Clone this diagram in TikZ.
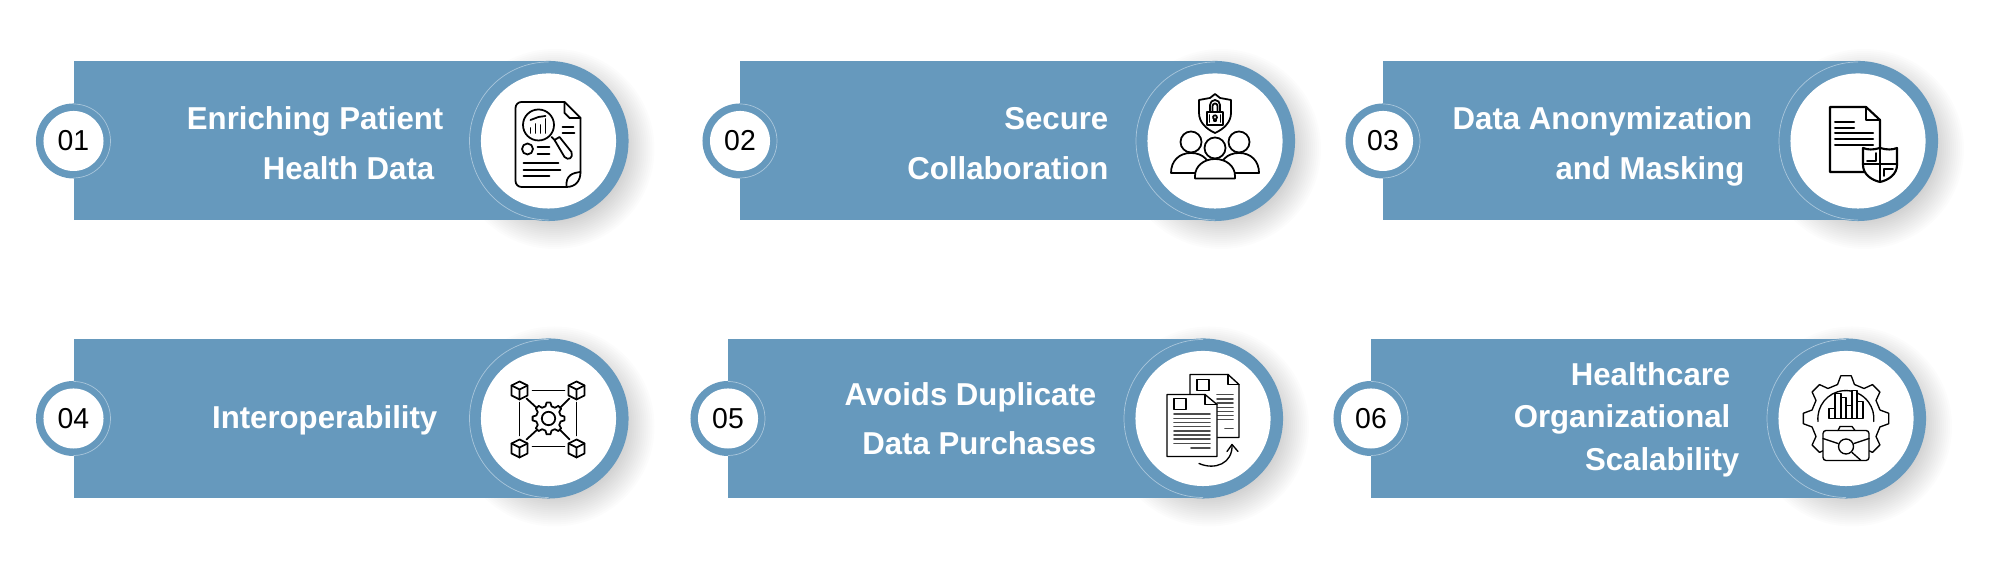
\documentclass[tikz,border=0pt]{standalone}
\usepackage{fontspec}
\setmainfont[FakeStretch=.985]{Liberation Sans}
\definecolor{cardblue}{HTML}{6699BD}
\definecolor{cardedge}{HTML}{A9C6DB}
\tikzset{
  bigring/.style={circle,fill=cardblue,minimum size=1.6cm,inner sep=0pt},
  bigdot/.style={circle,fill=white,minimum size=1.35cm,inner sep=0pt},
  numring/.style={circle,fill=cardblue,minimum size=.75cm,inner sep=0pt},
  numdot/.style={circle,fill=white,minimum size=.6cm,inner sep=0pt,text=black,font=\fontsize{8.2}{10}\selectfont},
  lbl/.style={anchor=base east,inner sep=0pt,text=white,font=\fontsize{9}{11}\selectfont\bfseries},
  icon/.style={line width=.5pt,line join=round,line cap=round,black},
  thin icon/.style={line width=.38pt,line join=round,line cap=round,black}
}
\newcommand\card[4]{
  \foreach \r in {70,72,...,100} {
    \fill[black,opacity=.011] (#1+6,#2-8) circle(\r);
  }
  \fill[cardblue] (#1-475,#2-79.5) rectangle (#1,#2+79.5);
  \node[bigring] (ring#4) at (#1,#2) {};
  \draw[cardedge,line width=.2pt] (#1,#2+79) arc(90:270:79);
  \node[bigdot] (dot#4) at (#1,#2) {};
  \node[numring] (numring#4) at (#1-475,#2) {};
  \draw[cardedge,line width=.2pt] (#1-475,#2+37) arc(90:-90:37);
  \node[numdot] (num#4) at (#1-475,#2) {#3};
}
\newcommand\gearline[4]{
  (#1-14:#3) \foreach \a in {#2} { -- (\a-14:#3) -- (\a-7:#4) -- (\a+7:#4) -- (\a+14:#3) }
}
\newcommand\cube[2]{
  \draw[icon] (#1,#2+9) -- (#1+8,#2+5) -- (#1+8,#2-5) -- (#1,#2-9) -- (#1-8,#2-5) -- (#1-8,#2+5) -- cycle;
  \draw[icon] (#1-8,#2+5) -- (#1,#2+1) -- (#1+8,#2+5) (#1,#2+1) -- (#1,#2-9);
}
\begin{document}
\begin{tikzpicture}[x=.01cm,y=.01cm]
  \useasboundingbox (0,0) rectangle (2000,586);
  \fill[white] (0,0) rectangle (2000,586);

  \card{548.5}{445}{01}{a}
  \card{1215}{445}{02}{b}
  \card{1858}{445}{03}{c}
  \card{548.5}{167.5}{04}{d}
  \card{1203}{167.5}{05}{e}
  \card{1846}{167.5}{06}{f}

  \node[lbl] (t1) at (444,456) {Enriching Patient};
  \node[lbl] (t2) at (435,406) {Health Data};
  \node[lbl] (t3) at (1109,456) {Secure};
  \node[lbl] (t4) at (1109,406) {Collaboration};
  \node[lbl] (t5) at (1753,456) {Data Anonymization};
  \node[lbl] (t6) at (1745,406) {and Masking};
  \node[lbl] (t7) at (438,157) {Interoperability};
  \node[lbl] (t8) at (1097,180) {Avoids Duplicate};
  \node[lbl] (t9) at (1097,131) {Data Purchases};
  \node[lbl] (t10) at (1731,200) {Healthcare};
  \node[lbl] (t11) at (1731,158) {Organizational};
  \node[lbl] (t12) at (1740,115) {Scalability};

  \begin{scope}[shift={(548.5,445)}]
    \draw[icon] (16,39) -- (-27,39) arc(90:180:6) -- (-33,-40) arc(180:270:6) -- (18,-46)
      .. controls (27,-46) and (32,-40) .. (32,-31) -- (32,23) -- cycle;
    \draw[icon] (16,39) -- (16,28) -- (21,23) -- (32,23);
    \draw[icon] (32,-31) .. controls (24,-32) and (17,-34) .. (18,-46);
    \draw[icon,fill=white] (-10,16) circle(15.5);
    \draw[icon] (3,4) -- (7,0);
    \draw[icon,fill=white] (6,1) -- (11,4) -- (23,-11) .. controls (25,-17) and (20,-20) .. (16,-16) -- cycle;
    \draw[icon] (-18,13) -- (-18,8) (-13,17) -- (-13,8) (-8,16) -- (-8,8) (-3,22) -- (-3,8);
    \draw[icon] (-18,21) -- (-10,24) -- (-3,25);
    \draw[icon] (14,14) -- (25,14) (14,8) -- (26,8);
    \draw[icon] (-21,-8) circle(5.5);
    \draw[icon] (-11,-6) -- (1,-6) (-11,-13) -- (1,-13);
    \draw[icon] (-25,-22) -- (10,-22) (-25,-29) -- (12,-29) (-25,-35) -- (1,-35);
  \end{scope}

  \begin{scope}[shift={(1215,445)}]
    \draw[icon] (0,47) -- (-5,43) -- (-16,41) -- (-16,28) .. controls (-16,19) and (-9,12) .. (0,8) .. controls (9,12) and (16,19) .. (16,28) -- (16,41) -- (5,43) -- cycle;
    \draw[icon] (-8,16) rectangle (8,29);
    \draw[icon] (-5,29) -- (-5,36) arc(180:0:5) -- (5,29);
    \draw[icon] (-2.5,29) -- (-2.5,35) arc(180:0:2.5) -- (2.5,29);
    \draw[icon] (-1,20) -- (1,20) -- (1,22) arc(-60:240:2) -- cycle;
    \draw[icon] (-5.5,19) -- (-5.5,26) (5.5,19) -- (5.5,26);
    \draw[icon,fill=white] (-44,-32) .. controls (-44,-20) and (-36,-12) .. (-24,-12) .. controls (-12,-12) and (-4,-20) .. (-4,-32) -- cycle;
    \draw[icon,fill=white] (44,-32) .. controls (44,-20) and (36,-12) .. (24,-12) .. controls (12,-12) and (4,-20) .. (4,-32) -- cycle;
    \draw[icon,fill=white] (-24,-1) circle(10.5);
    \draw[icon,fill=white] (24,-1) circle(10.5);
    \draw[icon,fill=white] (-20,-37.5) -- (-20,-35) .. controls (-20,-25) and (-11,-18) .. (0,-18) .. controls (11,-18) and (20,-25) .. (20,-35) -- (20,-37.5) -- cycle;
    \draw[icon,fill=white] (0,-7) circle(10.5);
  \end{scope}

  \begin{scope}[shift={(1858,445)}]
    \draw[icon,line width=.6pt] (8,34) -- (-28,34) -- (-28,-31) -- (22,-31) -- (22,21) -- cycle;
    \draw[icon] (8,34) -- (8,21) -- (22,21);
    \draw[icon,line width=.6pt] (-23,19) -- (-4,19) (-23,13) -- (-4,13);
    \draw[icon,line width=.6pt] (-23,8) -- (15,8) (-23,2) -- (15,2) (-23,-4) -- (15,-4);
    \draw[icon,fill=white,line width=.6pt] (22,-7) .. controls (15,-9) and (10,-9) .. (5,-7) -- (5,-24)
      .. controls (5,-33) and (13,-39) .. (22,-41) .. controls (31,-39) and (39,-33) .. (39,-24) -- (39,-7) .. controls (34,-9) and (29,-9) .. (22,-7) -- cycle;
    \draw[icon,line width=.6pt] (22,-7) -- (22,-41) (5,-23) -- (39,-23);
    \draw[icon] (9,-20) -- (18,-20) -- (18,-12) (26,-35) -- (26,-28) -- (35,-28);
  \end{scope}

  \begin{scope}[shift={(548.5,167.5)}]
    \cube{-29}{28}
    \cube{28}{28}
    \cube{-29}{-30}
    \cube{28}{-30}
    \draw[icon] (-16,28) -- (16,28) (-16,-28) -- (16,-28) (-29,16) -- (-29,-17) (28,16) -- (28,-17);
    \draw[icon] (-22,20) -- (-10,9) (21,20) -- (10,9) (-22,-21) -- (-10,-10) (21,-21) -- (10,-10);
    \draw[icon,fill=white] \gearline{0}{0,45,90,135,180,225,270,315}{12.5}{16} -- cycle;
    \draw[icon] (0,0) circle(6.7);
  \end{scope}

  \begin{scope}[shift={(1203,167.5)}]
    \draw[thin icon] (25,44) -- (-13,44) -- (-13,-19) -- (36,-19) -- (36,34) -- cycle;
    \draw[thin icon] (25,44) -- (25,34) -- (36,34);
    \draw[thin icon] (-6,28) rectangle (6,39);
    \foreach \y in {24,19.5,15.5,11,7,3,-1} {
      \draw[thin icon,gray!60!black,line width=.5pt] (14,\y) -- (30,\y);
    }
    \draw[thin icon,gray!60!black,line width=.5pt] (22,-10) -- (30,-10);
    \draw[thin icon,fill=white] (2,24) -- (-36,24) -- (-36,-38) -- (14,-38) -- (14,14) -- cycle;
    \draw[thin icon] (2,24) -- (2,14) -- (14,14);
    \draw[thin icon] (-29,9) rectangle (-17,20);
    \foreach \y in {4.5,0,-4,-8,-12.5,-16.5,-20.5,-25} {
      \draw[thin icon,gray!60!black,line width=.5pt] (-29,\y) -- (7,\y);
    }
    \draw[thin icon,gray!60!black,line width=.5pt] (-12,-29.5) -- (7,-29.5);
    \draw[thin icon] (-4,-45) .. controls (12,-52) and (30,-45) .. (29,-26);
    \draw[thin icon] (24,-33) -- (29,-26) -- (35,-33);
  \end{scope}

  \begin{scope}[shift={(1846,167.5)}]
    \draw[thin icon] \gearline{-45}{-45,0,45,90,135,180,225}{35}{43};
    \draw[thin icon] (-28,-3) arc(186:-6:28);
    \draw[thin icon,fill=white] (-17,0) rectangle (-11,10);
    \draw[thin icon,fill=white] (-11,0) rectangle (-5,25);
    \draw[thin icon,fill=white] (-5,0) rectangle (0,21);
    \draw[thin icon,fill=white] (0,0) rectangle (6,13);
    \draw[thin icon,fill=white] (6,0) rectangle (11,28);
    \draw[thin icon,fill=white] (11,0) rectangle (17,17);
    \draw[thin icon,fill=white] (-23,-39) arc(180:270:3) -- (20,-42) arc(270:360:3) -- (23,-15) arc(0:90:3) -- (-20,-12) arc(90:180:3) -- cycle;
    \draw[thin icon] (-8,-12) -- (-6,-8) -- (6,-8) -- (9,-12);
    \draw[thin icon] (-23,-20) -- (-8,-25) (23,-20) -- (8,-25);
    \draw[thin icon] (0,-28) circle(7.5);
    \draw[thin icon] (6,-34) -- (15,-42);
  \end{scope}
\end{tikzpicture}
\end{document}
